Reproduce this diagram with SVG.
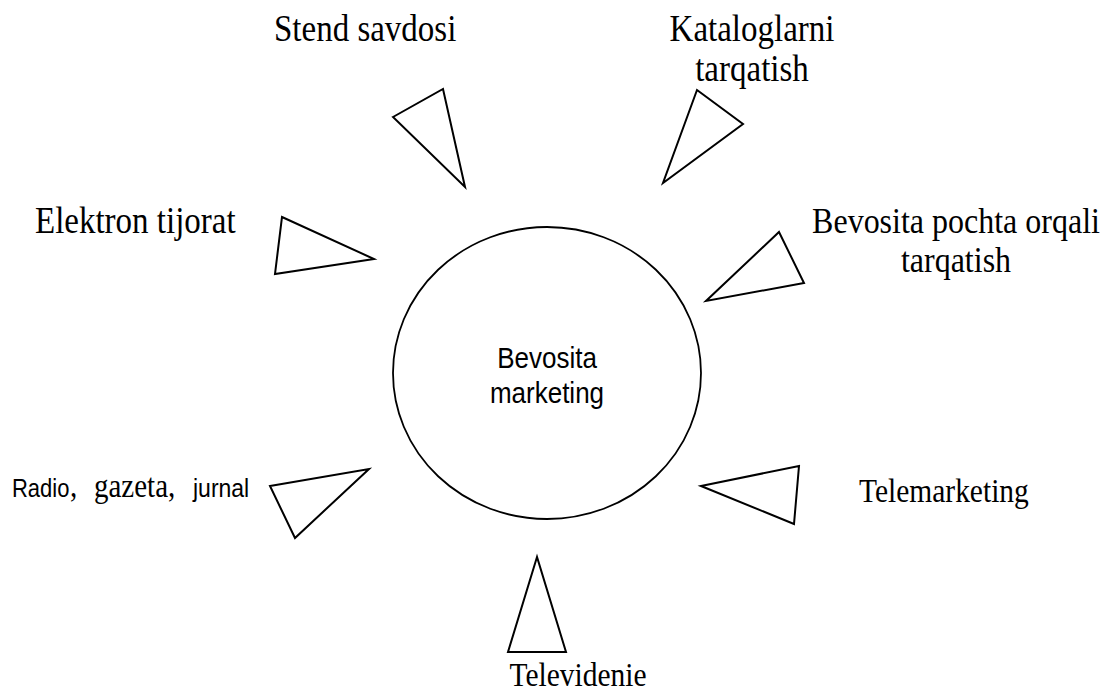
<svg xmlns="http://www.w3.org/2000/svg" width="1106" height="693" viewBox="0 0 1106 693">
<style>
.tri{fill:none;stroke:#000;stroke-width:2;stroke-linejoin:miter}
.circ{fill:#fff;stroke:#000;stroke-width:1.8}
.serif{font-family:"Liberation Serif","Times New Roman",serif;font-size:33px;fill:#000}
.sans{font-family:"Liberation Sans",Arial,sans-serif;font-size:26px;fill:#000}
.center{text-anchor:middle}
</style>
<rect width="1106" height="693" fill="#fff"/>
<g id="connectors">
<polygon class="tri" points="393,117 443,89 465,187"/>
<polygon class="tri" points="697,90 743,124 663,183"/>
<polygon class="tri" points="282,217 374,259 275,274"/>
<polygon class="tri" points="779,232 804,283 706,301"/>
<polygon class="tri" points="270,486 369,469 295,538"/>
<polygon class="tri" points="701,486 799,466 794,524"/>
<polygon class="tri" points="537,557 508,652 566,652"/>
</g>
<g id="center">
<ellipse class="circ" cx="547" cy="373" rx="154" ry="146"/>
<text class="sans center" transform="translate(547,368) scale(1,1.13)">Bevosita</text>
<text class="sans center" transform="translate(547,403) scale(1,1.13)">marketing</text>
</g>
<g id="stend">
<text class="serif" transform="translate(274,41) scale(1,1.15)">Stend savdosi</text>
</g>
<g id="kataloglar">
<text class="serif center" transform="translate(752,41) scale(1,1.15)">Kataloglarni</text>
<text class="serif center" transform="translate(752,81) scale(1,1.15)">tarqatish</text>
</g>
<g id="elektron">
<text class="serif" transform="translate(35,233) scale(1,1.15)">Elektron tijorat</text>
</g>
<g id="pochta">
<text class="serif center" style="font-size:32px" transform="translate(956,233) scale(1,1.15)">Bevosita pochta orqali</text>
<text class="serif center" style="font-size:32px" transform="translate(956,272) scale(1,1.15)">tarqatish</text>
</g>
<g id="telemarketing">
<text class="serif" style="font-size:29.5px" transform="translate(859,502) scale(1,1.15)">Telemarketing</text>
</g>
<g id="televidenie">
<text class="serif center" style="font-size:29.5px" transform="translate(578,686) scale(1,1.12)">Televidenie</text>
</g>
<g id="radio">
<text class="sans" style="font-size:22px" transform="translate(12,497) scale(1,1.15)">Radio</text>
<text class="serif" style="font-size:29px" transform="translate(70,497) scale(1,1.15)">,</text>
<text class="serif" style="font-size:29px" transform="translate(94,497) scale(1,1.15)">gazeta,</text>
<text class="sans" style="font-size:23px" transform="translate(193,497) scale(1,1.15)">jurnal</text>
</g>
</svg>
